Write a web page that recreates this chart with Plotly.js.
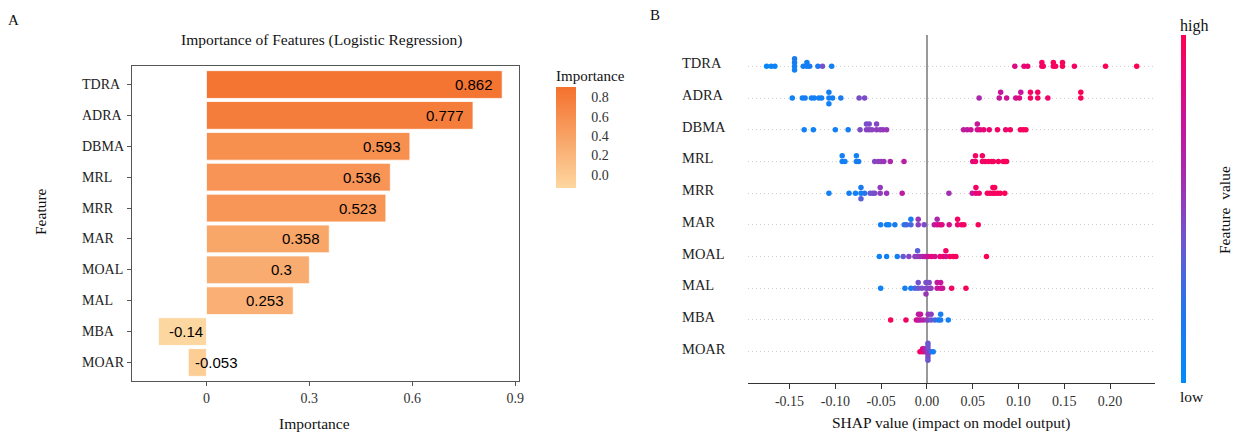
<!DOCTYPE html>
<html>
<head>
<meta charset="utf-8">
<script src="https://cdn.plot.ly/plotly-3.0.1.min.js"></script>
<style>html,body{margin:0;padding:0;background:#fff;}#chart{width:1234px;height:434px;}</style>
</head>
<body>
<div id="chart"></div>
<script>
// ---------- Data ----------
const features = ['TDRA','ADRA','DBMA','MRL','MRR','MAR','MOAL','MAL','MBA','MOAR'];
const importance = [0.862, 0.777, 0.593, 0.536, 0.523, 0.358, 0.3, 0.253, -0.14, -0.053];
const importanceTicks = [0, 0.3, 0.6, 0.9];
const importanceTickText = ['0', '0.3', '0.6', '0.9'];
const legendTicks = [0, 0.2, 0.4, 0.6, 0.8];
const legendTickText = ['0.0', '0.2', '0.4', '0.6', '0.8'];
const shapTicks = [-0.15, -0.10, -0.05, 0.00, 0.05, 0.10, 0.15, 0.20];
const shapTickText = ['-0.15', '-0.10', '-0.05', '0.00', '0.05', '0.10', '0.15', '0.20'];

// SHAP values and (normalised) feature values for each feature
const shapTDRA = [-0.175,-0.170,-0.166,-0.1445,-0.1445,-0.1445,-0.1445,-0.135,-0.131,-0.131,-0.128,-0.119,-0.114,-0.104,
                  0.096,0.106,0.110,0.1255,0.1255,0.127,0.138,0.138,0.1405,0.148,0.148,0.161,0.195,0.229];
const fvTDRA   = [0.05,0.08,0.06,0.10,0.12,0.10,0.15,0.12,0.10,0.12,0.15,0.15,0.42,0.12,
                  0.85,0.90,0.90,0.95,0.95,0.95,0.95,0.97,0.95,0.97,0.97,0.95,0.98,1.0];

const shapADRA = [-0.147,-0.136,-0.133,-0.126,-0.123,-0.118,-0.115,-0.107,-0.107,-0.107,-0.103,-0.094,-0.074,-0.068,
                  0.057,0.079,0.0805,0.087,0.097,0.101,0.1025,0.113,0.113,0.121,0.121,0.132,0.168,0.168];
const fvADRA   = [0.10,0.10,0.12,0.10,0.12,0.10,0.12,0.10,0.12,0.10,0.12,0.15,0.45,0.45,
                  0.62,0.72,0.75,0.78,0.80,0.85,0.75,0.95,0.95,0.95,0.95,0.92,0.98,0.98];

const shapDBMA = [-0.134,-0.124,-0.100,-0.086,-0.073,-0.066,-0.066,-0.063,-0.063,-0.060,-0.055,-0.055,-0.051,-0.048,-0.044,
                  0.040,0.044,0.048,0.055,0.055,0.058,0.062,0.068,0.077,0.086,0.091,0.102,0.105,0.108];
const fvDBMA   = [0.10,0.10,0.10,0.12,0.45,0.48,0.45,0.50,0.45,0.48,0.52,0.48,0.50,0.52,0.55,
                  0.70,0.72,0.75,0.80,0.72,0.85,0.90,0.90,0.95,0.92,0.95,0.95,0.97,0.97];

const shapMRL  = [-0.0925,-0.0925,-0.0895,-0.077,-0.077,-0.0745,-0.057,-0.053,-0.050,-0.047,-0.040,-0.025,
                  0.050,0.053,0.053,0.0605,0.0605,0.0635,0.067,0.0705,0.0725,0.078,0.0833,0.0852,0.087];
const fvMRL    = [0.10,0.12,0.10,0.12,0.10,0.15,0.48,0.50,0.52,0.55,0.62,0.68,
                  0.85,0.92,0.95,0.92,0.95,0.95,0.97,0.95,0.97,0.95,0.97,0.98,0.97];

const shapMRR  = [-0.107,-0.085,-0.078,-0.072,-0.072,-0.072,-0.068,-0.062,-0.059,-0.057,-0.051,-0.051,-0.044,-0.027,
                  0.024,0.0495,0.0535,0.0535,0.057,0.066,0.069,0.072,0.072,0.074,0.074,0.077,0.080,0.085];
const fvMRR    = [0.10,0.12,0.10,0.10,0.15,0.35,0.20,0.40,0.42,0.45,0.50,0.52,0.55,0.70,
                  0.58,0.75,0.90,0.95,0.90,0.95,0.97,0.95,0.97,0.95,0.97,0.98,0.97,0.98];

const shapMAR  = [-0.0505,-0.044,-0.0415,-0.035,-0.0248,-0.0222,-0.0175,-0.0175,-0.0095,-0.0095,-0.003,
                  0.008,0.0112,0.0112,0.0142,0.0164,0.0243,0.0335,0.0335,0.0379,0.0404,0.056];
const fvMAR    = [0.10,0.12,0.10,0.15,0.20,0.30,0.30,0.15,0.50,0.55,0.45,
                  0.70,0.80,0.60,0.85,0.85,0.80,0.90,0.95,0.92,0.95,0.97];

const shapMOAL = [-0.052,-0.044,-0.0324,-0.0259,-0.0197,-0.0131,-0.0102,-0.0102,-0.0076,-0.0047,-0.0019,
                  0.0014,0.0051,0.0087,0.0142,0.0178,0.0207,0.0207,0.0251,0.0287,0.0317,0.065];
const fvMOAL   = [0.08,0.10,0.12,0.38,0.48,0.50,0.52,0.35,0.55,0.60,0.72,
                  0.75,0.90,0.80,0.92,0.92,0.80,0.95,0.95,0.95,0.97,1.0];

const shapMAL  = [-0.0505,-0.024,-0.0175,-0.0131,-0.0095,-0.0095,-0.0055,-0.001,-0.001,-0.001,0.0025,0.0025,
                  0.0044,0.0112,0.0112,0.015,0.015,0.0171,0.027,0.0426];
const fvMAL    = [0.10,0.12,0.15,0.30,0.40,0.42,0.45,0.45,0.45,0.55,0.50,0.45,
                  0.50,0.75,0.72,0.80,0.75,0.75,0.95,0.97];

const shapMBA  = [-0.0396,-0.0229,-0.0115,-0.0092,-0.0092,-0.007,-0.007,-0.004,-0.0004,0.0014,0.0014,
                  0.0046,0.0046,0.0087,0.0124,0.015,0.015,0.0233];
const fvMBA    = [0.98,0.95,0.80,0.75,0.72,0.70,0.72,0.65,0.55,0.50,0.55,
                  0.40,0.50,0.30,0.20,0.15,0.12,0.10];

const shapMOAR = [-0.0076,-0.0047,-0.0047,-0.0022,-0.0022,0.0011,0.0011,0.0011,0.0011,0.0011,0.0011,0.0011,0.0044,0.0069];
const fvMOAR   = [0.97,0.90,0.85,0.70,0.65,0.50,0.45,0.50,0.40,0.45,0.40,0.42,0.30,0.12];

const shapRows = [shapTDRA, shapADRA, shapDBMA, shapMRL, shapMRR, shapMAR, shapMOAL, shapMAL, shapMBA, shapMOAR];
const fvRows   = [fvTDRA, fvADRA, fvDBMA, fvMRL, fvMRR, fvMAR, fvMOAL, fvMAL, fvMBA, fvMOAR];

// ---------- Beeswarm layout (SHAP algorithm) ----------
function beeswarm(vals) {
  const N = vals.length, nbins = 100;
  const mn = Math.min(...vals), mx = Math.max(...vals);
  const quant = vals.map(v => Math.round(nbins * (v - mn) / (mx - mn + 1e-8)));
  const inds = vals.map((v, i) => i).sort((a, b) => (quant[a] - quant[b]) || (a - b));
  let layer = 0, last = -1;
  const ys = new Array(N).fill(0);
  for (const ind of inds) {
    if (quant[ind] !== last) layer = 0;
    ys[ind] = Math.ceil(layer / 2) * ((layer % 2) * 2 - 1);
    layer += 1;
    last = quant[ind];
  }
  const m = Math.max(...ys.map(y => y + 1));
  return ys.map(y => y * 0.9 * (0.4 / m));
}

const sx = [], sy = [], sc = [];
shapRows.forEach((row, i) => {
  const pos = features.length - 1 - i;
  const off = beeswarm(row);
  row.forEach((v, j) => { sx.push(v); sy.push(pos + off[j]); sc.push(fvRows[i][j]); });
});

const SERIF = 'Liberation Serif, Times New Roman, serif';
const SANS = 'Liberation Sans, Arial, sans-serif';
const W = 1234, H = 434;
const px = x => x / W, py = y => 1 - y / H;

const shapScale = [
  [0.0, '#008bfb'], [0.2, '#2176ee'], [0.4, '#6a58d2'], [0.5, '#8c40c0'],
  [0.6, '#a82aae'], [0.75, '#c8139a'], [0.88, '#e6067a'], [1.0, '#ff0051']
];
const impScale = [[0, '#fdd7a0'], [1, '#f4702d']];

const barTrace = {
  type: 'bar', orientation: 'h',
  y: features, x: importance,
  xaxis: 'x', yaxis: 'y',
  width: 0.9,
  marker: {
    color: importance, colorscale: impScale, cmin: -0.14, cmax: 0.905,
    line: {color: '#ffffff', width: 0.8},
    showscale: true,
    colorbar: {
      x: px(556), xanchor: 'left', y: py(188.3), yanchor: 'bottom',
      thickness: 20, thicknessmode: 'pixels', len: 122, lenmode: 'pixels',
      xpad: 0, ypad: 0, outlinewidth: 0,
      tickmode: 'array', tickvals: legendTicks, ticktext: legendTickText,
      ticks: 'outside', ticklen: 13, tickcolor: 'rgba(0,0,0,0)',
      tickfont: {family: SERIF, size: 14, color: '#333'},
      title: {text: 'Importance', side: 'top', font: {family: SERIF, size: 15, color: '#111'}}
    }
  },
  hoverinfo: 'skip'
};

const shapTrace = {
  type: 'scatter', mode: 'markers',
  x: sx, y: sy, xaxis: 'x2', yaxis: 'y2',
  marker: {
    size: 5.5, color: sc, colorscale: shapScale, cmin: 0, cmax: 1,
    line: {width: 0},
    showscale: true,
    colorbar: {
      x: px(1180.5), xanchor: 'left', y: py(209), yanchor: 'middle',
      thickness: 5, thicknessmode: 'pixels', len: 348, lenmode: 'pixels',
      xpad: 0, ypad: 0, outlinewidth: 0, showticklabels: false, ticks: ''
    }
  },
  hoverinfo: 'skip'
};

const annotations = [];
features.forEach((f, i) => {
  annotations.push({xref: 'paper', yref: 'y', x: px(80), y: f, xanchor: 'left', yanchor: 'middle',
    text: f, showarrow: false, font: {family: SERIF, size: 14, color: '#222'}});
  annotations.push({xref: 'paper', yref: 'y2', x: px(680), y: features.length - 1 - i, xanchor: 'left', yanchor: 'middle',
    yshift: 3, text: f, showarrow: false, font: {family: SERIF, size: 14.5, color: '#222'}});
});
importance.forEach((v, i) => {
  annotations.push({xref: 'x', yref: 'y', x: v, y: features[i], xanchor: 'center', yanchor: 'middle',
    xshift: v > 0 ? -28 : 28, text: String(v), showarrow: false, font: {family: SANS, size: 15, color: '#000'}});
});
const txt = (x, y, t, size, extra) => Object.assign({xref: 'paper', yref: 'paper', x: px(x), y: py(y),
  xanchor: 'center', yanchor: 'middle', text: t, showarrow: false, font: {family: SERIF, size: size, color: '#111'}}, extra || {});
annotations.push(txt(13, 20, 'A', 15));
annotations.push(txt(655, 15, 'B', 15));
annotations.push(txt(322, 40, 'Importance of Features (Logistic Regression)', 15.5));
annotations.push(txt(40, 212, 'Feature', 15.5, {textangle: -90}));
annotations.push(txt(314, 423, 'Importance', 15.5));
annotations.push(txt(951, 423, 'SHAP value (impact on model output)', 15.5));
annotations.push(txt(1178, 26, 'high', 16, {xanchor: 'left'}));
annotations.push(txt(1178, 396, 'low', 15.5, {xanchor: 'left'}));
annotations.push(txt(1224, 210, 'Feature&nbsp;&nbsp;value', 15.5, {textangle: -90}));

const layout = {
  width: W, height: H, margin: {l: 0, r: 0, t: 0, b: 0},
  paper_bgcolor: '#fff', plot_bgcolor: '#fff', showlegend: false,
  xaxis: {
    domain: [px(132), px(519)], range: [-0.217, 0.911], anchor: 'y',
    tickmode: 'array', tickvals: importanceTicks, ticktext: importanceTickText,
    ticks: 'outside', ticklen: 4, tickcolor: '#555', showgrid: false, zeroline: false,
    showline: true, mirror: true, linecolor: '#555', linewidth: 1.2,
    tickfont: {family: SERIF, size: 14, color: '#333'}
  },
  yaxis: {
    domain: [py(381), py(66)], range: [9.6, -0.6], anchor: 'x',
    type: 'category', categoryorder: 'array', categoryarray: features,
    ticks: 'outside', ticklen: 4, tickcolor: '#555', showticklabels: false,
    showgrid: false, zeroline: false, showline: true, mirror: true, linecolor: '#555', linewidth: 1.2
  },
  xaxis2: {
    domain: [px(748.3), px(1155)], range: [-0.195, 0.249], anchor: 'y2',
    tickmode: 'array', tickvals: shapTicks, ticktext: shapTickText,
    ticks: 'outside', ticklen: 5, tickcolor: '#333', showgrid: false,
    zeroline: true, zerolinecolor: '#999', zerolinewidth: 1.5,
    showline: true, linecolor: '#333', linewidth: 1,
    tickfont: {family: SERIF, size: 14, color: '#333'}
  },
  yaxis2: {
    domain: [py(383.4), py(34.6)], range: [-1, 10], anchor: 'x2',
    tickmode: 'array', tickvals: [0,1,2,3,4,5,6,7,8,9], showticklabels: false, ticks: '',
    showgrid: true, gridcolor: '#cfcfcf', griddash: '1px,3px', gridwidth: 1,
    zeroline: false, showline: false
  },
  annotations: annotations
};

Plotly.newPlot('chart', [barTrace, shapTrace], layout, {displayModeBar: false, staticPlot: true});
</script>
</body>
</html>
